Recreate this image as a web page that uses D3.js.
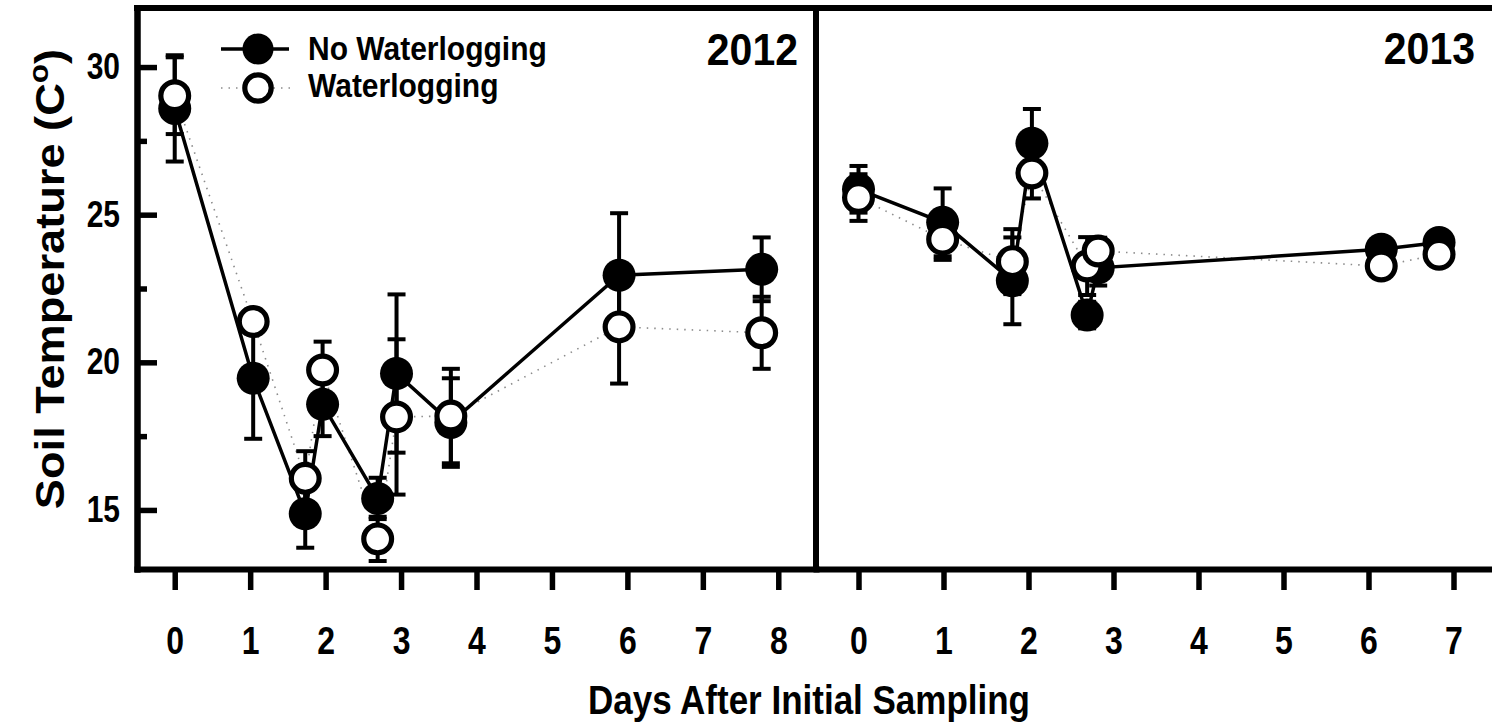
<!DOCTYPE html>
<html>
<head>
<meta charset="utf-8">
<script src="https://cdn.jsdelivr.net/npm/d3@7/dist/d3.min.js"></script>
<style>
  html, body { margin: 0; padding: 0; background: #fff; }
  svg { display: block; }
  text { font-family: "Liberation Sans", Arial, Helvetica, sans-serif; font-weight: bold; fill: #000; }
</style>
</head>
<body>
<script>
// ---------------- data ----------------
const days2012 = [0, 1.04, 1.73, 1.96, 2.69, 2.94, 3.66, 5.89, 7.78];
const noWater2012 = [28.6, 19.46, 14.87, 18.58, 15.39, 19.62, 17.96, 22.95, 23.15];
const noWater2012SE = [1.8, 2.05, 1.15, 1.08, 0.7, 2.68, 1.5, 2.1, 1.08];
const water2012 = [29.03, 21.38, 16.07, 19.74, 14.02, 18.15, 18.18, 21.2, 21.0];
const water2012SE = [1.3, 0.4, 0.92, 0.96, 0.75, 2.63, 1.6, 1.92, 1.22];

const days2013 = [0, 0.99, 1.81, 2.04, 2.69, 2.82, 6.15, 6.83];
const noWater2013 = [25.86, 24.74, 22.76, 27.42, 21.6, 23.2, 23.83, 24.06];
const noWater2013SE = [0.79, 1.15, 1.47, 1.16, 0.45, 0.6, 0.35, 0.3];
const water2013 = [25.58, 24.17, 23.41, 26.41, 23.26, 23.77, 23.26, 23.66];
const water2013SE = [0.79, 0.7, 1.1, 0.86, 0.98, 0.45, 0.3, 0.3];

const yMajorTicks = [15, 20, 25, 30];
const yMinorTicks = [17.5, 22.5, 27.5];
const xTicks2012 = [0, 1, 2, 3, 4, 5, 6, 7, 8];
const xTicks2013 = [0, 1, 2, 3, 4, 5, 6, 7];
const seriesNames = ["No Waterlogging", "Waterlogging"];
const panelLabels = ["2012", "2013"];
const xTitle = "Days After Initial Sampling";
const yTitle = "Soil Temperature (C";

// ---------------- layout ----------------
const W = 1492, H = 727;
const plotTop = 8, plotBottom = 569, plotLeft = 137, plotMid = 816, plotRight = 1496;

const svg = d3.select("body").append("svg").attr("width", W).attr("height", H);

const y = d3.scaleLinear().domain([13, 32]).range([plotBottom, plotTop]);
const x12 = d3.scaleLinear().domain([-0.5, 8.5]).range([plotLeft, plotMid]);
const x13 = d3.scaleLinear().domain([-0.5, 7.5]).range([plotMid, plotRight]);

const AXW = 6;

// frame lines
svg.append("line").attr("x1", plotLeft).attr("x2", W + 10).attr("y1", plotTop).attr("y2", plotTop)
  .attr("stroke", "#000").attr("stroke-width", AXW).attr("stroke-linecap", "square");
svg.append("line").attr("x1", plotMid).attr("x2", plotMid).attr("y1", plotTop).attr("y2", plotBottom)
  .attr("stroke", "#000").attr("stroke-width", AXW).attr("stroke-linecap", "square");

function styleAxis(g) {
  g.select(".domain").attr("stroke", "#000").attr("stroke-width", AXW).attr("stroke-linecap", "square");
  g.selectAll(".tick line").attr("stroke", "#000").attr("stroke-width", 5.5);
}

// y axis (ticks inward)
const yAxisG = svg.append("g").attr("transform", `translate(${plotLeft},0)`)
  .call(d3.axisLeft(y).tickValues(yMajorTicks).tickSizeInner(-20).tickSizeOuter(0).tickPadding(17).tickFormat(d3.format("d")));
styleAxis(yAxisG);
yAxisG.selectAll(".tick text").attr("font-size", 30).attr("font-family", null)
  .attr("transform", "scale(1,1.2)");

const yMinorG = svg.append("g").attr("transform", `translate(${plotLeft},0)`)
  .call(d3.axisLeft(y).tickValues(yMinorTicks).tickSizeInner(-10).tickSizeOuter(0).tickFormat(""));
styleAxis(yMinorG);

// x axes
function xAxis(scale, ticks) {
  const g = svg.append("g").attr("transform", `translate(0,${plotBottom})`)
    .call(d3.axisBottom(scale).tickValues(ticks).tickSizeInner(21).tickSizeOuter(0).tickFormat(d3.format("d")));
  styleAxis(g);
  g.selectAll(".tick text").attr("font-size", 32).attr("font-family", null)
    .attr("y", 0).attr("dy", 0)
    .attr("transform", "translate(0,85) scale(1,1.2)");
  return g;
}
xAxis(x12, xTicks2012);
xAxis(x13, xTicks2013);

// ---------------- data marks ----------------
const R_FILL = 16.5, R_OPEN = 13.9, OPEN_SW = 5.2, CAP = 9;

function rows(days, vals, se) { return days.map((d, i) => ({ d, v: vals[i], e: se[i] })); }

function drawPanel(xs, days, nw, nwSE, wv, wSE) {
  const a = rows(days, nw, nwSE), b = rows(days, wv, wSE);
  const line = d3.line().x(p => xs(p.d)).y(p => y(p.v));
  const g = svg.append("g");
  g.append("path").datum(b).attr("d", line).attr("fill", "none")
    .attr("stroke", "#8c8c8c").attr("stroke-width", 1.6).attr("stroke-dasharray", "1.5 6");
  g.append("path").datum(a).attr("d", line).attr("fill", "none")
    .attr("stroke", "#000").attr("stroke-width", 3.5);
  [a, b].forEach(s => {
    const eg = g.append("g").attr("stroke", "#000").attr("stroke-width", 4);
    eg.selectAll(".v").data(s).join("line").attr("class", "v")
      .attr("x1", p => xs(p.d)).attr("x2", p => xs(p.d))
      .attr("y1", p => y(p.v + p.e)).attr("y2", p => y(p.v - p.e));
    eg.selectAll(".ct").data(s).join("line").attr("class", "ct")
      .attr("x1", p => xs(p.d) - CAP).attr("x2", p => xs(p.d) + CAP)
      .attr("y1", p => y(p.v + p.e)).attr("y2", p => y(p.v + p.e));
    eg.selectAll(".cb").data(s).join("line").attr("class", "cb")
      .attr("x1", p => xs(p.d) - CAP).attr("x2", p => xs(p.d) + CAP)
      .attr("y1", p => y(p.v - p.e)).attr("y2", p => y(p.v - p.e));
  });
  g.selectAll(".f").data(a).join("circle").attr("class", "f")
    .attr("cx", p => xs(p.d)).attr("cy", p => y(p.v)).attr("r", R_FILL).attr("fill", "#000");
  g.selectAll(".o").data(b).join("circle").attr("class", "o")
    .attr("cx", p => xs(p.d)).attr("cy", p => y(p.v)).attr("r", R_OPEN)
    .attr("fill", "#fff").attr("stroke", "#000").attr("stroke-width", OPEN_SW);
}
drawPanel(x12, days2012, noWater2012, noWater2012SE, water2012, water2012SE);
drawPanel(x13, days2013, noWater2013, noWater2013SE, water2013, water2013SE);

// ---------------- texts ----------------
function stretchedText(xp, yp, str, size, sy, anchor) {
  return svg.append("text").attr("transform", `translate(${xp},${yp}) scale(1,${sy})`)
    .attr("font-size", size).attr("text-anchor", anchor || "start").text(str);
}
stretchedText(798, 65, panelLabels[0], 41, 1.08, "end");
stretchedText(1475, 64, panelLabels[1], 41, 1.08, "end");
stretchedText(809, 714, xTitle, 35, 1.17, "middle");

const yl = svg.append("text")
  .attr("transform", "translate(64,279) scale(1,1.13) rotate(-90)")
  .attr("font-size", 40).attr("text-anchor", "middle");
yl.append("tspan").text(yTitle);
yl.append("tspan").attr("font-size", 28).attr("dy", -16).text("o");
yl.append("tspan").attr("dy", 16).text(")");

// legend
const lg = svg.append("g");
lg.append("line").attr("x1", 221).attr("x2", 289).attr("y1", 49).attr("y2", 49)
  .attr("stroke", "#000").attr("stroke-width", 3.5);
lg.append("circle").attr("cx", 258).attr("cy", 49).attr("r", 15.5).attr("fill", "#000");
lg.append("line").attr("x1", 221).attr("x2", 290).attr("y1", 88).attr("y2", 88)
  .attr("stroke", "#8c8c8c").attr("stroke-width", 1.6).attr("stroke-dasharray", "1.5 6");
lg.append("circle").attr("cx", 258).attr("cy", 88).attr("r", 13.2)
  .attr("fill", "#fff").attr("stroke", "#000").attr("stroke-width", OPEN_SW);
stretchedText(308, 60, seriesNames[0], 30, 1.12);
stretchedText(308, 97, seriesNames[1], 30, 1.12);
</script>
</body>
</html>
